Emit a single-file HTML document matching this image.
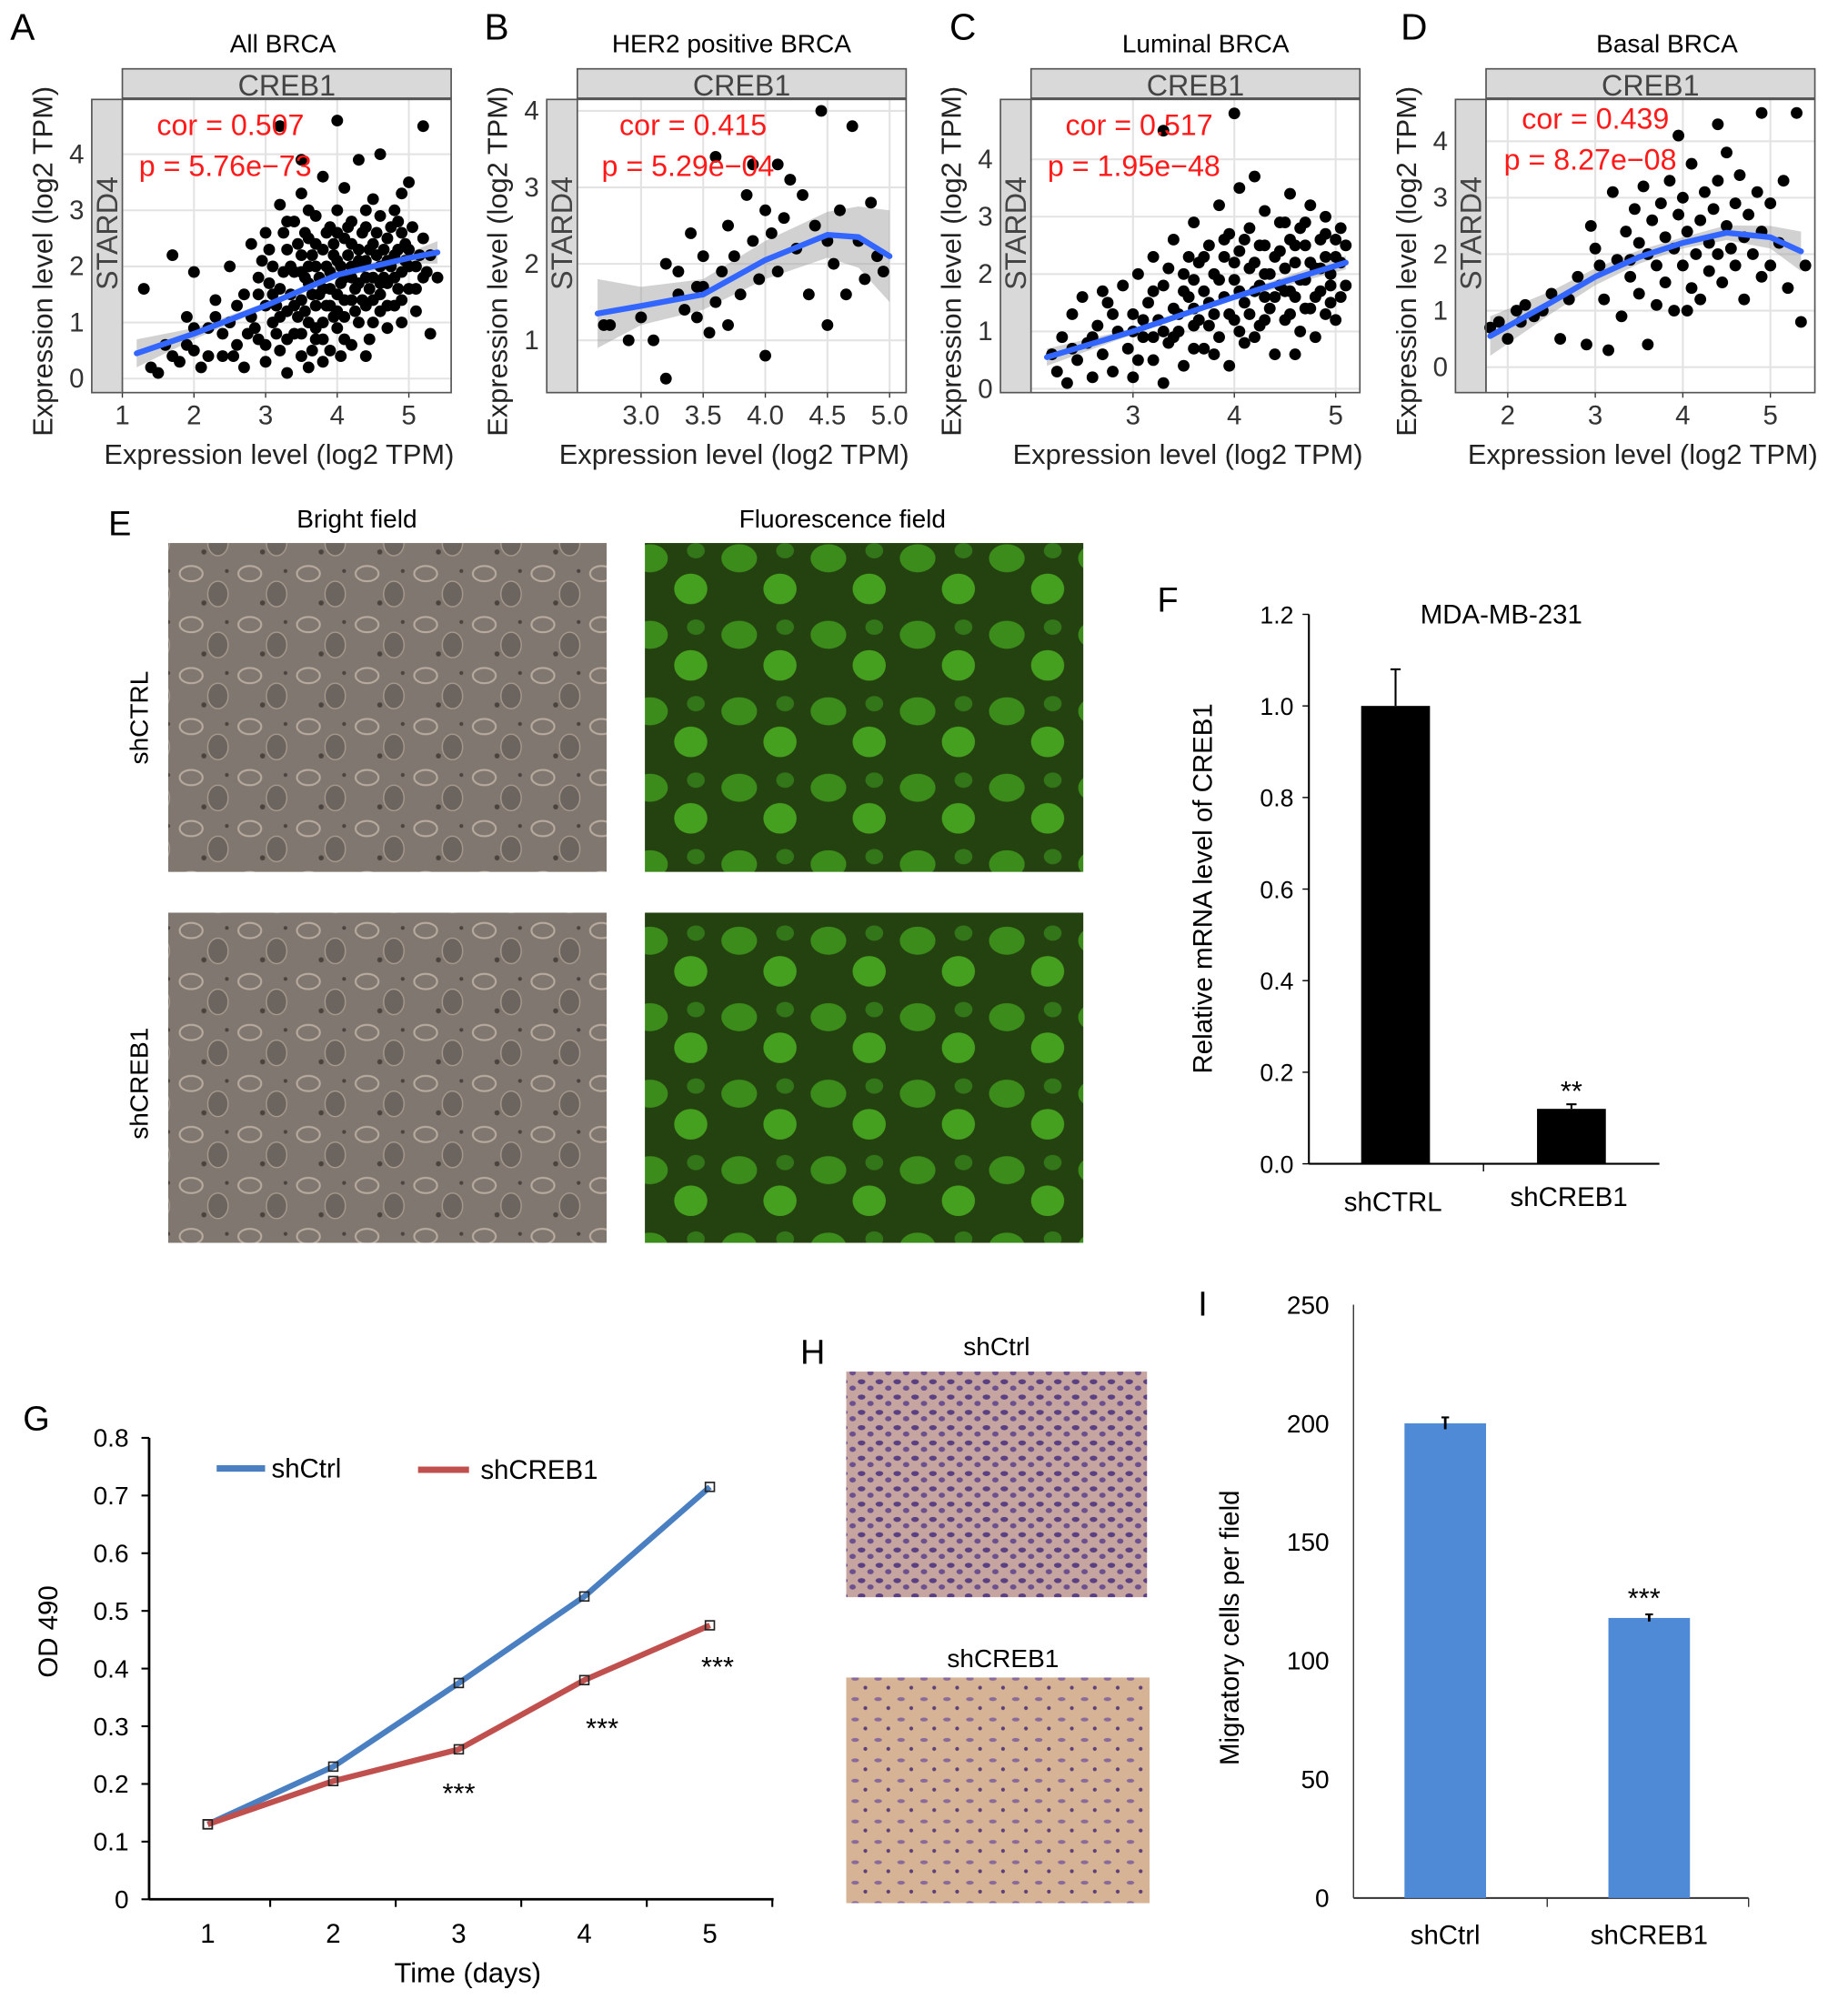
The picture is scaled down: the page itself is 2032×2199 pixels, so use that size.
<!DOCTYPE html>
<html><head><meta charset="utf-8"><style>
html,body{margin:0;padding:0;background:#fff;}
svg{display:block;font-family:"Liberation Sans",Arial,sans-serif;}
</style></head><body>
<svg id="fig" width="2032" height="2199" viewBox="0 0 1450 1569" preserveAspectRatio="none" xmlns="http://www.w3.org/2000/svg">
<defs>
<pattern id="bf" width="46" height="40" patternUnits="userSpaceOnUse">
<rect width="46" height="40" fill="#807770"/>
<ellipse cx="12" cy="10" rx="9" ry="6" fill="none" stroke="#b8ab9e" stroke-width="1.5"/>
<ellipse cx="33" cy="26" rx="8" ry="10" fill="#6c645e" stroke="#a89b8f" stroke-width="1"/>
<circle cx="22" cy="33" r="2" fill="#4a433e"/><circle cx="40" cy="8" r="1.5" fill="#4a433e"/>
</pattern>
<pattern id="fl" width="70" height="60" patternUnits="userSpaceOnUse">
<rect width="70" height="60" fill="#24420f"/>
<ellipse cx="20" cy="18" rx="14" ry="11" fill="#3c8c1c"/>
<ellipse cx="52" cy="42" rx="13" ry="12" fill="#46a020"/>
<ellipse cx="56" cy="12" rx="7" ry="6" fill="#33761a"/>
</pattern>
<pattern id="h1" width="14" height="12" patternUnits="userSpaceOnUse">
<rect width="14" height="12" fill="#c6a5a0"/>
<ellipse cx="4" cy="4" rx="3" ry="2" fill="#5a3f82"/><ellipse cx="11" cy="9" rx="2.5" ry="2" fill="#6b4f8f"/>
</pattern>
<pattern id="h2" width="18" height="16" patternUnits="userSpaceOnUse">
<rect width="18" height="16" fill="#d6b394"/>
<ellipse cx="5" cy="5" rx="3" ry="1.5" fill="#8a6a9a"/><circle cx="13" cy="12" r="1.5" fill="#5d3f7a"/>
</pattern>
</defs>
<g id="scatters"></g>
<g id="panelE">
<text x="85" y="420" font-size="27">E</text>
<text x="280" y="414" font-size="20" text-anchor="middle">Bright field</text>
<text x="661" y="414" font-size="20" text-anchor="middle">Fluorescence field</text>
<text transform="translate(116,563) rotate(-90)" font-size="20" text-anchor="middle">shCTRL</text>
<text transform="translate(116,850) rotate(-90)" font-size="20" text-anchor="middle">shCREB1</text>
<rect x="132" y="426" width="344" height="258" fill="url(#bf)"/>
<rect x="132" y="716" width="344" height="259" fill="url(#bf)"/>
<rect x="506" y="426" width="344" height="258" fill="url(#fl)"/>
<rect x="506" y="716" width="344" height="259" fill="url(#fl)"/>
</g>
<g id="panelH">
<text x="628" y="1070" font-size="27">H</text>
<text x="782" y="1063" font-size="20" text-anchor="middle">shCtrl</text>
<text x="787" y="1308" font-size="20" text-anchor="middle">shCREB1</text>
<rect x="664" y="1076" width="236" height="177" fill="url(#h1)"/>
<rect x="664" y="1316" width="238" height="177" fill="url(#h2)"/>
</g>
<g id="panelF"></g>
<g id="panelG"></g>
<g id="panelI"></g>
</svg>
<script>
// ===== Scatter data (A-D) =====
const ptsA=[[1.3,1.6],[1.4,0.2],[1.5,0.1],[1.6,0.6],[1.8,0.3],[1.9,1.1],[2.0,0.5],[2.1,0.2],[2.2,0.9],[2.3,1.4],[2.4,0.4],[2.5,1.0],[2.5,2.0],[2.6,0.6],[2.7,1.5],[2.7,0.2],[2.8,1.1],[2.8,2.4],[2.9,0.7],[2.9,1.8],[3.0,1.3],[3.0,0.3],[3.0,2.6],[3.1,1.0],[3.1,2.0],[3.2,0.5],[3.2,1.6],[3.2,3.1],[3.3,1.2],[3.3,2.3],[3.3,0.1],[3.4,0.8],[3.4,1.9],[3.4,2.8],[3.5,1.4],[3.5,0.4],[3.5,2.2],[3.5,3.3],[3.6,1.0],[3.6,1.7],[3.6,2.5],[3.6,0.2],[3.7,1.3],[3.7,2.0],[3.7,2.9],[3.7,0.7],[3.8,1.6],[3.8,2.3],[3.8,1.0],[3.8,3.6],[3.9,0.5],[3.9,1.9],[3.9,2.7],[3.9,1.3],[4.0,2.1],[4.0,1.5],[4.0,0.9],[4.0,3.0],[4.0,4.6],[4.1,1.8],[4.1,2.5],[4.1,1.1],[4.1,3.4],[4.2,0.6],[4.2,2.0],[4.2,1.4],[4.2,2.8],[4.3,1.7],[4.3,2.3],[4.3,1.0],[4.3,3.9],[4.4,2.1],[4.4,1.3],[4.4,2.7],[4.4,0.4],[4.5,1.8],[4.5,2.4],[4.5,3.2],[4.5,1.0],[4.6,2.0],[4.6,1.5],[4.6,2.9],[4.7,1.7],[4.7,2.5],[4.7,0.9],[4.8,2.2],[4.8,1.3],[4.8,3.0],[4.9,1.9],[4.9,2.6],[5.0,1.6],[5.0,2.3],[5.0,3.5],[5.1,2.0],[5.1,1.2],[5.2,2.5],[5.2,1.8],[5.3,0.8],[5.3,2.2],[5.4,1.8],[5.2,4.5],[3.2,4.5],[3.5,3.9],[4.6,4.0],[2.0,1.9],[1.7,2.2],[3.05,1.7],[3.15,1.3],[3.25,1.9],[3.45,1.1],[3.55,1.8],[3.65,2.2],[3.75,1.5],[3.85,2.0],[3.95,1.1],[4.05,1.7],[4.15,2.2],[4.25,1.6],[4.35,2.0],[4.45,1.6],[4.55,2.2],[4.65,1.8],[4.75,2.0],[4.85,1.6],[4.95,2.1],[3.35,1.5],[3.65,0.5],[4.05,0.4],[4.45,0.7],[3.15,0.8],[2.95,2.1],[4.85,2.8],[4.35,2.6],[3.95,2.4],[3.55,2.6],[4.6,1.2],[3.8,0.3],[4.9,1.0],[2.6,1.3],[2.4,0.8],[2.2,0.4],[2.0,0.9],
[2.85,0.9],[2.9,1.5],[3.0,0.6],[3.05,2.3],[3.1,1.5],[3.2,1.1],[3.25,2.6],[3.3,0.7],[3.35,2.0],[3.4,1.3],[3.45,2.4],[3.5,0.8],[3.5,1.9],[3.55,1.2],[3.6,2.0],[3.65,1.5],[3.7,0.9],[3.7,2.4],[3.75,1.8],[3.8,0.7],[3.85,1.3],[3.85,2.6],[3.9,1.6],[3.95,2.2],[4.0,1.2],[4.0,2.6],[4.05,2.0],[4.1,0.7],[4.1,1.4],[4.15,2.7],[4.2,1.8],[4.2,2.4],[4.25,1.2],[4.3,2.1],[4.35,1.4],[4.4,1.8],[4.4,3.0],[4.45,2.3],[4.5,1.4],[4.55,2.6],[4.6,1.7],[4.65,2.3],[4.7,1.3],[4.7,2.1],[4.75,2.7],[4.8,1.8],[4.85,2.3],[4.9,1.4],[4.95,2.4],[5.0,2.0],[5.05,2.7],[5.1,1.6],[5.15,2.2],[5.25,1.9],[3.6,3.0],[3.3,2.8],[4.9,3.3],[2.75,0.8],[2.55,0.4],[2.3,1.1],[1.9,0.6],[1.7,0.4]];
const ptsB=[[2.7,1.2],[2.75,1.2],[2.9,1.0],[3.0,1.3],[3.1,1.0],[3.2,0.5],[3.2,2.0],[3.3,1.6],[3.35,1.4],[3.4,2.4],[3.45,1.3],[3.5,1.7],[3.5,2.1],[3.55,1.1],[3.6,1.5],[3.6,3.4],[3.65,1.9],[3.7,2.5],[3.7,1.2],[3.75,2.1],[3.8,1.6],[3.85,2.9],[3.9,3.3],[3.9,2.3],[3.95,1.8],[4.0,0.8],[4.0,2.7],[4.05,2.4],[4.1,3.3],[4.1,1.9],[4.15,2.6],[4.2,3.1],[4.25,2.2],[4.3,2.9],[4.35,1.6],[4.4,2.5],[4.45,4.0],[4.5,2.3],[4.5,1.2],[4.55,2.0],[4.6,2.7],[4.65,1.6],[4.7,3.8],[4.75,2.3],[4.8,1.8],[4.85,2.8],[4.9,2.1],[4.95,1.9],[3.3,1.9],[3.45,1.7]];
const ptsC=[[2.2,0.6],[2.25,0.3],[2.3,0.9],[2.35,0.1],[2.4,1.3],[2.45,0.5],[2.5,1.6],[2.55,0.8],[2.6,0.2],[2.65,1.1],[2.7,0.6],[2.75,1.5],[2.8,0.3],[2.85,1.0],[2.9,1.8],[2.95,0.7],[3.0,1.3],[3.0,0.2],[3.05,2.0],[3.1,0.9],[3.15,1.5],[3.2,0.5],[3.2,2.3],[3.25,1.2],[3.3,1.8],[3.3,0.1],[3.35,0.8],[3.4,2.6],[3.4,1.4],[3.45,1.0],[3.5,2.0],[3.5,0.4],[3.55,1.6],[3.6,2.9],[3.6,1.1],[3.65,2.2],[3.7,0.7],[3.7,1.7],[3.75,2.5],[3.8,1.3],[3.8,2.0],[3.85,0.9],[3.85,3.2],[3.9,1.6],[3.9,2.3],[3.95,0.4],[3.95,2.7],[4.0,1.2],[4.0,1.9],[4.05,2.4],[4.05,3.5],[4.1,1.5],[4.1,0.8],[4.15,2.1],[4.15,2.8],[4.2,1.7],[4.2,3.7],[4.25,1.1],[4.25,2.5],[4.3,2.0],[4.3,3.1],[4.35,1.4],[4.4,2.3],[4.4,0.6],[4.45,1.8],[4.45,2.9],[4.5,2.1],[4.5,1.2],[4.55,2.6],[4.55,3.4],[4.6,1.6],[4.6,2.2],[4.65,1.0],[4.65,2.8],[4.7,1.9],[4.7,2.5],[4.75,1.4],[4.75,3.2],[4.8,2.1],[4.8,0.9],[4.85,2.6],[4.85,1.7],[4.9,2.3],[4.9,3.0],[4.95,1.5],[4.95,2.0],[5.0,2.6],[5.0,1.2],[5.05,2.2],[5.1,1.8],[5.1,2.5],[4.0,4.8],[3.3,4.5],[3.6,1.4],[3.4,0.9],[3.0,1.0],[2.7,1.7],[4.3,1.6],[4.55,1.7],[3.75,1.1],[3.55,2.3],
[3.1,1.2],[3.2,1.7],[3.3,1.0],[3.35,2.1],[3.45,1.3],[3.5,1.7],[3.6,0.7],[3.6,1.9],[3.65,1.2],[3.7,2.3],[3.75,1.5],[3.8,0.6],[3.85,1.9],[3.9,2.6],[3.95,1.3],[4.0,2.2],[4.05,1.0],[4.05,1.7],[4.1,2.6],[4.15,1.3],[4.2,2.2],[4.25,1.8],[4.3,1.2],[4.3,2.5],[4.35,2.0],[4.4,1.6],[4.45,2.4],[4.5,1.7],[4.5,2.9],[4.55,1.3],[4.6,2.5],[4.65,1.9],[4.7,1.4],[4.7,2.9],[4.75,2.2],[4.8,1.6],[4.85,2.1],[4.9,1.3],[4.9,2.7],[4.95,1.8],[5.0,2.3],[5.05,1.6],[5.05,2.8],[2.8,1.3],[2.6,0.9],[2.4,0.7],[3.05,0.5],[3.2,0.9],[4.2,0.9],[4.6,0.6]];
const ptsD=[[1.8,0.7],[1.9,0.8],[2.0,0.5],[2.1,1.0],[2.15,0.8],[2.2,1.1],[2.3,0.9],[2.4,1.0],[2.5,1.3],[2.6,0.5],[2.7,1.2],[2.8,1.6],[2.9,0.4],[2.95,2.5],[3.0,2.1],[3.05,1.8],[3.1,1.2],[3.15,0.3],[3.2,3.1],[3.25,1.9],[3.3,0.9],[3.35,2.4],[3.4,1.6],[3.45,2.8],[3.5,2.2],[3.5,1.3],[3.55,3.2],[3.6,2.0],[3.65,2.6],[3.7,1.1],[3.7,1.8],[3.75,2.9],[3.8,2.3],[3.8,1.5],[3.85,3.3],[3.9,2.1],[3.9,1.0],[3.95,2.7],[4.0,1.8],[4.0,3.0],[4.05,2.4],[4.1,1.4],[4.1,3.6],[4.15,2.0],[4.2,2.6],[4.2,1.2],[4.25,3.1],[4.3,2.2],[4.3,1.7],[4.35,2.8],[4.4,3.3],[4.4,2.0],[4.45,1.5],[4.5,2.5],[4.5,3.8],[4.55,2.1],[4.6,1.8],[4.6,2.9],[4.65,3.4],[4.7,2.3],[4.7,1.2],[4.75,2.7],[4.8,2.0],[4.85,3.1],[4.9,2.4],[4.9,1.6],[5.0,2.9],[5.0,1.8],[5.1,2.2],[5.15,3.3],[5.2,1.4],[5.3,4.5],[5.35,0.8],[5.4,1.8],[4.9,4.5],[4.4,4.3],[3.95,4.1],[3.4,1.9],[3.6,0.4],[4.05,1.0]];
const fitXA=[1.2,2,3,4,5,5.4], fitYA=[0.45,0.8,1.3,1.85,2.15,2.25], bandA=[0.25,0.1,0.05,0.05,0.1,0.2];
const fitXB=[2.65,3.0,3.5,4.0,4.5,4.75,5.0], fitYB=[1.35,1.45,1.6,2.05,2.38,2.35,2.1], bandB=[0.45,0.25,0.2,0.25,0.3,0.4,0.6];
const fitXC=[2.15,3,4,5.1], fitYC=[0.55,1.0,1.6,2.2], bandC=[0.15,0.05,0.05,0.12];
const fitXD=[1.8,2.5,3,3.5,4,4.5,5,5.35], fitYD=[0.55,1.15,1.6,1.95,2.2,2.38,2.3,2.05], bandD=[0.35,0.2,0.15,0.12,0.1,0.13,0.2,0.35];
const xTicksA=[1,2,3,4,5], yTicksA=[0,1,2,3,4];
const xTicksB=[3.0,3.5,4.0,4.5,5.0], yTicksB=[1,2,3,4];
const xTicksC=[3,4,5], yTicksC=[0,1,2,3,4];
const xTicksD=[2,3,4,5], yTicksD=[0,1,2,3,4];
// ===== Panel F =====
const catF=["shCTRL","shCREB1"], valF=[1.0,0.12], errF=[0.08,0.01], ticksF=[0.0,0.2,0.4,0.6,0.8,1.0,1.2];
// ===== Panel G =====
const daysG=[1,2,3,4,5], ctrlG=[0.13,0.23,0.375,0.525,0.715], crebG=[0.13,0.205,0.26,0.38,0.475], ticksG=[0,0.1,0.2,0.3,0.4,0.5,0.6,0.7,0.8];
// ===== Panel I =====
const catI=["shCtrl","shCREB1"], valI=[200,118], errI=[2.5,1.5], ticksI=[0,50,100,150,200,250];

const NS="http://www.w3.org/2000/svg";
function mk(parent,tag,attrs,text){const e=document.createElementNS(NS,tag);for(const k in attrs)e.setAttribute(k,attrs[k]);if(text!==undefined)e.textContent=text;parent.appendChild(e);return e;}

function scatter(cfg){
  const g=mk(document.getElementById('scatters'),'g',{});
  
  
  const X=v=>cfg.x0px+(v-cfg.x0)*cfg.xs, Y=v=>cfg.y0px-(v-cfg.y0)*cfg.ys;
  const L=cfg.left,R=L+258,T=78,B=308;
  let t=mk(g,'text',{x:cfg.letterX,y:31,'font-size':29},cfg.id.toUpperCase());
  
  
  t=mk(g,'text',{x:cfg.titleX,y:41,'font-size':20,'text-anchor':'middle'},cfg.title);
  
  
  let r=mk(g,'rect',{x:L,y:54,width:258,height:23,fill:'#d9d9d9',stroke:'#555','stroke-width':1.2});
  
  
  t=mk(g,'text',{x:L+129,y:75,'font-size':23,'text-anchor':'middle',fill:'#444'},'CREB1');
  
  
  r=mk(g,'rect',{x:L-24,y:T,width:24,height:B-T,fill:'#d9d9d9',stroke:'#555','stroke-width':1.2});
  
  
  t=mk(g,'text',{transform:`translate(${L-4},${(T+B)/2-10}) rotate(-90)`,'font-size':23,'text-anchor':'middle',fill:'#444'},'STARD4');
  
  
  r=mk(g,'rect',{x:L,y:T,width:258,height:B-T,fill:'#fff'});
  
  
  cfg.xt.forEach(v=>{const gl=mk(g,'line',{x1:X(v),x2:X(v),y1:T,y2:B,stroke:'#e3e3e3','stroke-width':1.5});
    const tl=mk(g,'text',{x:X(v),y:B+25,'font-size':21,'text-anchor':'middle',fill:'#333'},cfg.xfmt?v.toFixed(1):v);
    mk(g,'line',{x1:X(v),x2:X(v),y1:B,y2:B+4,stroke:'#333'});});
  cfg.yt.forEach(v=>{const gl=mk(g,'line',{x1:L,x2:R,y1:Y(v),y2:Y(v),stroke:'#e3e3e3','stroke-width':1.5});
    const tl=mk(g,'text',{x:L-30,y:Y(v)+7,'font-size':21,'text-anchor':'end',fill:'#333'},v);});
  let up=cfg.fx.map((x,i)=>X(x)+','+Y(cfg.fy[i]+cfg.band[i])).join(' ');
  let dn=cfg.fx.map((x,i)=>X(x)+','+Y(cfg.fy[i]-cfg.band[i])).reverse().join(' ');
  const band=mk(g,'polygon',{points:up+' '+dn,fill:'#9a9a9a','fill-opacity':0.45});
  
  
  cfg.pts.forEach(p=>{const c=mk(g,'circle',{cx:X(p[0]),cy:Y(p[1]),r:4.6,fill:'#000'});
    
    });
  const fit=mk(g,'polyline',{points:cfg.fx.map((x,i)=>X(x)+','+Y(cfg.fy[i])).join(' '),fill:'none',stroke:'#3366ff','stroke-width':4.5,'stroke-linejoin':'round','stroke-linecap':'round'});
  
  
  r=mk(g,'rect',{x:L,y:T,width:258,height:B-T,fill:'none',stroke:'#555','stroke-width':1.2});
  
  
  t=mk(g,'text',{x:cfg.corX,y:cfg.corY,'font-size':23,fill:'#ff1a1a'},cfg.cor);
  
  
  t=mk(g,'text',{x:cfg.corX-14,y:cfg.corY+32,'font-size':23,fill:'#ff1a1a'},cfg.p);
  
  
  t=mk(g,'text',{transform:`translate(${L-55},${(T+B)/2+12}) rotate(-90)`,'font-size':22,'text-anchor':'middle',fill:'#222'},'Expression level (log2 TPM)');
  
  
  t=mk(g,'text',{x:L+123,y:364,'font-size':22,'text-anchor':'middle',fill:'#222'},'Expression level (log2 TPM)');
  
  
}
scatter({id:'a',title:'All BRCA',letterX:8,titleX:222,left:96,x0:1,x0px:96,xs:56.2,y0:0,y0px:297,ys:44,xt:xTicksA,yt:yTicksA,pts:ptsA,fx:fitXA,fy:fitYA,band:bandA,cor:'cor = 0.507',p:'p = 5.76e−73',corX:123,corY:106});
scatter({id:'b',title:'HER2 positive BRCA',letterX:380,titleX:574,left:453,x0:3,x0px:503,xs:97.5,y0:1,y0px:267,ys:60,xt:xTicksB,yt:yTicksB,xfmt:true,pts:ptsB,fx:fitXB,fy:fitYB,band:bandB,cor:'cor = 0.415',p:'p = 5.29e−04',corX:486,corY:106});
scatter({id:'c',title:'Luminal BRCA',letterX:745,titleX:946,left:809,x0:3,x0px:889,xs:79.5,y0:0,y0px:305,ys:45,xt:xTicksC,yt:yTicksC,pts:ptsC,fx:fitXC,fy:fitYC,band:bandC,cor:'cor = 0.517',p:'p = 1.95e−48',corX:836,corY:106});
scatter({id:'d',title:'Basal BRCA',letterX:1099,titleX:1308,left:1166,x0:2,x0px:1183,xs:68.7,y0:0,y0px:288,ys:44.3,xt:xTicksD,yt:yTicksD,pts:ptsD,fx:fitXD,fy:fitYD,band:bandD,cor:'cor = 0.439',p:'p = 8.27e−08',corX:1194,corY:101});

// ===== Panel F =====
(function(){
  const g=document.getElementById('panelF');
  const Y=v=>913-v*359.2, xc=[1095,1233];
  let t=mk(g,'text',{x:908,y:480,'font-size':27},'F');
  t=mk(g,'text',{x:1178,y:489,'font-size':21,'text-anchor':'middle'},'MDA-MB-231');
  let a=mk(g,'line',{x1:1027,x2:1027,y1:Y(1.2),y2:913,stroke:'#000','stroke-width':1.5});
  a=mk(g,'line',{x1:1027,x2:1302,y1:913,y2:913,stroke:'#000','stroke-width':1.5});
  mk(g,'line',{x1:1164,x2:1164,y1:913,y2:919,stroke:'#000'});
  ticksF.forEach(v=>{mk(g,'line',{x1:1022,x2:1027,y1:Y(v),y2:Y(v),stroke:'#000'});
    const l=mk(g,'text',{x:1015,y:Y(v)+7,'font-size':19,'text-anchor':'end'},v.toFixed(1));});
  catF.forEach((c,i)=>{const b=mk(g,'rect',{x:xc[i]-27,y:Y(valF[i]),width:54,height:913-Y(valF[i]),fill:'#000'});
    
    mk(g,'line',{x1:xc[i],x2:xc[i],y1:Y(valF[i]+errF[i]),y2:Y(valF[i]),stroke:'#000','stroke-width':1.5});
    mk(g,'line',{x1:xc[i]-4,x2:xc[i]+4,y1:Y(valF[i]+errF[i]),y2:Y(valF[i]+errF[i]),stroke:'#000','stroke-width':1.5});
    const l=mk(g,'text',{x:xc[i]-2,y:950-i*4,'font-size':21,'text-anchor':'middle'},c);});
  t=mk(g,'text',{x:1233,y:Y(valF[1]+errF[1])-3,'font-size':22,'text-anchor':'middle'},'**');
  t=mk(g,'text',{transform:'translate(951,697) rotate(-90)','font-size':21,'text-anchor':'middle'},'Relative mRNA level of CREB1');
})();

// ===== Panel G =====
(function(){
  const g=document.getElementById('panelG');
  const X=d=>163+(d-1)*98.5, Y=v=>1490-v*452.5;
  let t=mk(g,'text',{x:18,y:1122,'font-size':27},'G');
  let a=mk(g,'line',{x1:117,x2:117,y1:Y(0.8),y2:1490,stroke:'#000','stroke-width':2});
  a=mk(g,'line',{x1:117,x2:607,y1:1490,y2:1490,stroke:'#000','stroke-width':2});
  ticksG.forEach(v=>{mk(g,'line',{x1:111,x2:117,y1:Y(v),y2:Y(v),stroke:'#000','stroke-width':1.5});
    const l=mk(g,'text',{x:101,y:Y(v)+7,'font-size':20,'text-anchor':'end'},v===0?'0':v.toFixed(1));});
  daysG.forEach(d=>{mk(g,'line',{x1:X(d)+49,x2:X(d)+49,y1:1490,y2:1496,stroke:'#000','stroke-width':1.5});
    const l=mk(g,'text',{x:X(d),y:1524,'font-size':21,'text-anchor':'middle'},d);});
  [[ctrlG,'#4a7fc1','shctrl'],[crebG,'#c0504d','shcreb1']].forEach(s=>{
    const p=mk(g,'polyline',{points:daysG.map((d,i)=>X(d)+','+Y(s[0][i])).join(' '),fill:'none',stroke:s[1],'stroke-width':4.5,'stroke-linejoin':'round'});
    
    daysG.forEach((d,i)=>{const m=mk(g,'rect',{x:X(d)-3.5,y:Y(s[0][i])-3.5,width:7,height:7,fill:'none',stroke:'#222','stroke-width':1.2});
      });
  });
  [3,4,5].forEach((d,k)=>{const i=d-1;const l=mk(g,'text',{x:X(d)+(k===2?6:(k===1?14:0)),y:Y(crebG[i])+(k===0?42:k===1?45:40),'font-size':22,'text-anchor':'middle'},'***');
    });
  mk(g,'line',{x1:170,x2:208,y1:1152,y2:1152,stroke:'#4a7fc1','stroke-width':5});
  t=mk(g,'text',{x:213,y:1159,'font-size':21},'shCtrl');
  mk(g,'line',{x1:328,x2:368,y1:1153,y2:1153,stroke:'#c0504d','stroke-width':5});
  t=mk(g,'text',{x:377,y:1160,'font-size':21},'shCREB1');
  t=mk(g,'text',{transform:'translate(45,1280) rotate(-90)','font-size':21,'text-anchor':'middle'},'OD 490');
  t=mk(g,'text',{x:367,y:1555,'font-size':22,'text-anchor':'middle'},'Time (days)');
})();

// ===== Panel I =====
(function(){
  const g=document.getElementById('panelI');
  const Y=v=>1489-v*1.862, xc=[1134,1294];
  let t=mk(g,'text',{x:940,y:1032,'font-size':27},'I');
  let a=mk(g,'line',{x1:1062,x2:1062,y1:Y(250),y2:1489,stroke:'#333','stroke-width':1});
  a=mk(g,'line',{x1:1062,x2:1372,y1:1489,y2:1489,stroke:'#333','stroke-width':1.5});
  mk(g,'line',{x1:1214,x2:1214,y1:1489,y2:1496,stroke:'#333'});
  mk(g,'line',{x1:1372,x2:1372,y1:1489,y2:1496,stroke:'#333'});
  ticksI.forEach(v=>{const l=mk(g,'text',{x:1043,y:Y(v)+7,'font-size':20,'text-anchor':'end'},v);});
  catI.forEach((c,i)=>{const b=mk(g,'rect',{x:xc[i]-32,y:Y(valI[i]),width:64,height:1489-Y(valI[i]),fill:'#4f8ad6'});
    
    mk(g,'line',{x1:xc[i],x2:xc[i],y1:Y(valI[i]+errI[i]),y2:Y(valI[i]-errI[i]),stroke:'#000','stroke-width':2});
    mk(g,'line',{x1:xc[i]-3,x2:xc[i]+3,y1:Y(valI[i]+errI[i]),y2:Y(valI[i]+errI[i]),stroke:'#000','stroke-width':1.5});
    const l=mk(g,'text',{x:xc[i],y:1525,'font-size':21,'text-anchor':'middle'},c);});
  t=mk(g,'text',{x:1290,y:Y(valI[1])-8,'font-size':22,'text-anchor':'middle'},'***');
  t=mk(g,'text',{transform:'translate(972,1277) rotate(-90)','font-size':21,'text-anchor':'middle'},'Migratory cells per field');
})();
</script>
</body></html>
